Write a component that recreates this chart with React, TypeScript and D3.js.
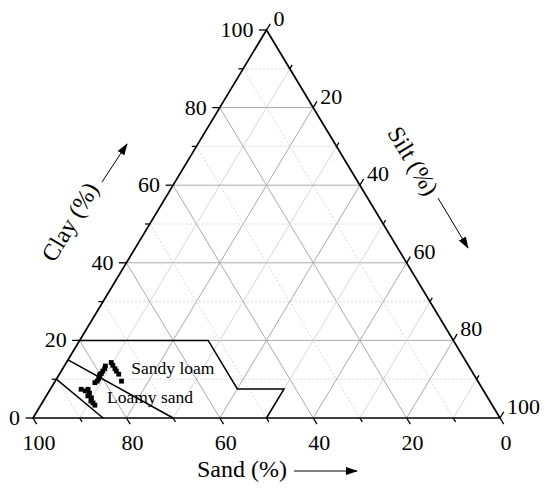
import { useEffect, useRef } from 'react'
import * as d3 from 'd3'

// tick values (%)
const MAJOR = [0, 20, 40, 60, 80, 100]
const MINOR = [10, 30, 50, 70, 90]
const GRID = [10, 20, 30, 40, 50, 60, 70, 80, 90]

// soil samples: sand % and clay %
const SAND = [76.1, 76.1, 76.1, 76.1, 76.0, 76.3,
  77.8, 78.3, 79.0, 79.6, 80.1, 80.3, 80.9, 81.5, 82.2,
  86.0, 85.3, 84.5, 84.7, 85.4, 84.9, 85.4, 85.2, 85.1]
const CLAY = [14.3, 13.6, 12.7, 12.1, 11.3, 9.5,
  13.4, 12.7, 12.1, 11.5, 11.2, 10.8, 10.1, 9.5, 9.1,
  7.4, 7.0, 7.4, 6.4, 5.7, 5.2, 4.4, 3.9, 3.3]

// USDA texture class boundaries as [sand, clay]
const SANDY_LOAM: [number, number][] = [[80, 20], [52.5, 20], [52.5, 7.5], [42.5, 7.5], [50, 0]]
const LS_UPPER: [number, number][] = [[85, 15], [70, 0]]
const LS_LOWER: [number, number][] = [[90, 10], [85, 0]]

const FONT = '"Liberation Serif", "Times New Roman", serif'

export default function App() {
  const svgRef = useRef<SVGSVGElement>(null)

  useEffect(() => {
    const svg = d3.select(svgRef.current)
    svg.selectAll('*').remove()

    // x from (sand + clay/2), y from clay
    const xs = d3.scaleLinear().domain([0, 100]).range([500, 33])
    const ys = d3.scaleLinear().domain([0, 100]).range([418, 30])
    const P = (s: number, c: number): [number, number] => [xs(s + c / 2), ys(c)]
    const line = d3.line<[number, number]>().x(d => P(d[0], d[1])[0]).y(d => P(d[0], d[1])[1])

    svg.append('defs').append('marker')
      .attr('id', 'arr').attr('markerUnits', 'userSpaceOnUse')
      .attr('markerWidth', 12).attr('markerHeight', 8)
      .attr('refX', 11).attr('refY', 4).attr('orient', 'auto')
      .append('path').attr('d', 'M0,0 L12,4 L0,8 Z').attr('fill', '#000')

    const g = svg.append('g')

    // grid
    GRID.forEach(k => {
      const even = k % 20 === 0
      const col = even ? '#ababab' : '#d8d8d8'
      // constant clay
      g.append('path').attr('d', line([[100 - k, k], [0, k]]))
        .attr('stroke', col).attr('stroke-width', 1).attr('fill', 'none')
        .attr('stroke-dasharray', even ? null : '2,2')
      // constant sand
      g.append('path').attr('d', line([[k, 100 - k], [k, 0]]))
        .attr('stroke', col).attr('stroke-width', 1).attr('fill', 'none')
        .attr('stroke-dasharray', even ? null : '2,2')
      // constant silt
      g.append('path').attr('d', line([[100 - k, 0], [0, 100 - k]]))
        .attr('stroke', col).attr('stroke-width', 1).attr('fill', 'none')
    })

    // texture class boundaries
    ;[SANDY_LOAM, LS_UPPER, LS_LOWER].forEach(pts => {
      g.append('path').attr('d', line(pts))
        .attr('fill', 'none').attr('stroke', '#000').attr('stroke-width', 1.5)
    })

    // triangle frame
    g.append('path').attr('d', line([[100, 0], [0, 100], [0, 0]]) + 'Z')
      .attr('fill', 'none').attr('stroke', '#000').attr('stroke-width', 1.7)

    // ticks
    const tick = (a: [number, number], b: [number, number]) =>
      g.append('line').attr('x1', a[0]).attr('y1', a[1]).attr('x2', b[0]).attr('y2', b[1])
        .attr('stroke', '#000').attr('stroke-width', 1.3)
    const ticksFor = (vals: number[], k: number) => vals.forEach(v => {
      tick(P(v, 0), P(v, -k))                  // sand (bottom)
      tick(P(100 - v, v), P(100 - v + k, v))   // clay (left)
      tick(P(0, 100 - v), P(-k, 100 - v + k))  // silt (right)
    })
    ticksFor(MAJOR, 1.6)
    ticksFor(MINOR, 1.0)

    const txt = (x: number, y: number, s: string, anchor: string, size = 22) =>
      g.append('text').attr('x', x).attr('y', y).attr('text-anchor', anchor)
        .attr('font-family', FONT).attr('font-size', size).attr('fill', '#000').text(s)

    MAJOR.forEach(v => {
      const b = P(v, 0)
      txt(b[0] + 6, 450, String(v), 'middle')
      const l = P(100 - v, v)
      txt(l[0] - 13, l[1] + 7, String(v), 'end')
      const r = P(0, 100 - v)
      txt(r[0] + 7, r[1] - 4, String(v), 'start')
    })

    // samples
    g.selectAll('.pt').data(SAND.map((s, i) => [s, CLAY[i]] as [number, number]))
      .join('rect').attr('class', 'pt')
      .attr('x', d => P(d[0], d[1])[0] - 2.4).attr('y', d => P(d[0], d[1])[1] - 2.4)
      .attr('width', 4.8).attr('height', 4.8).attr('fill', '#000')

    // class labels
    const sl = P(73.3, 11.3)
    txt(sl[0], sl[1], 'Sandy loam', 'start', 17.5)
    const ls = P(82.2, 3.9)
    txt(ls[0], ls[1], 'Loamy sand', 'start', 17.5)

    // axis titles
    txt(197, 477, 'Sand (%)', 'start', 24)
    g.append('line').attr('x1', 294).attr('y1', 471).attr('x2', 357).attr('y2', 471)
      .attr('stroke', '#000').attr('stroke-width', 1).attr('marker-end', 'url(#arr)')

    g.append('text').attr('transform', 'translate(70,222) rotate(-59)')
      .attr('y', 8).attr('text-anchor', 'middle')
      .attr('font-family', FONT).attr('font-size', 24).text('Clay (%)')
    g.append('line').attr('x1', 102).attr('y1', 182).attr('x2', 127).attr('y2', 144)
      .attr('stroke', '#000').attr('stroke-width', 1).attr('marker-end', 'url(#arr)')

    g.append('text').attr('transform', 'translate(413,161) rotate(59)')
      .attr('y', 8).attr('text-anchor', 'middle')
      .attr('font-family', FONT).attr('font-size', 24).text('Silt (%)')
    g.append('line').attr('x1', 438).attr('y1', 198).attr('x2', 468).attr('y2', 248)
      .attr('stroke', '#000').attr('stroke-width', 1).attr('marker-end', 'url(#arr)')
  }, [])

  return (
    <svg ref={svgRef} width={550} height={491}
      style={{ position: 'absolute', left: 0, top: 0, background: '#fff' }} />
  )
}
